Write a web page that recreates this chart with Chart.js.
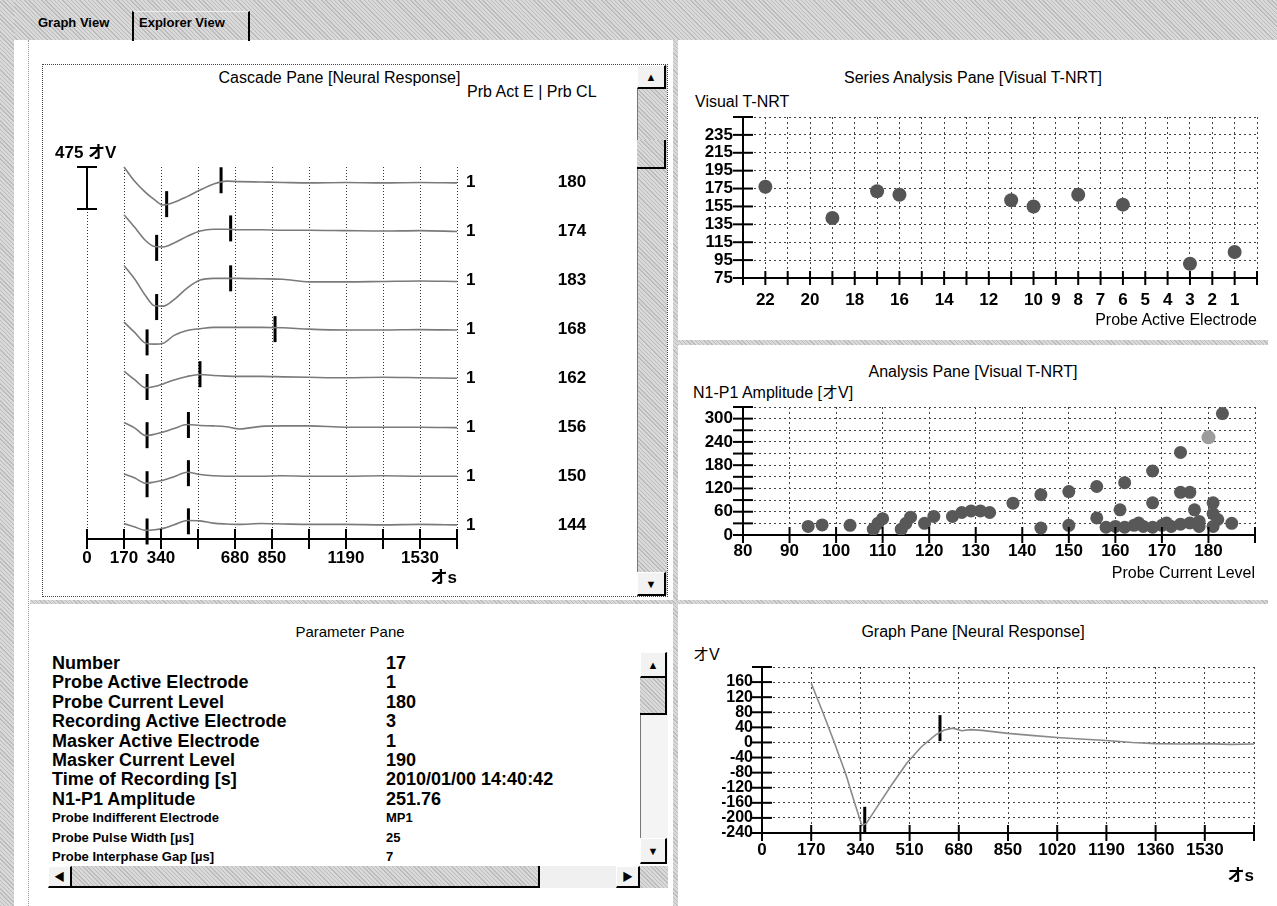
<!DOCTYPE html>
<html>
<head>
<meta charset="utf-8">
<script src="https://cdn.jsdelivr.net/npm/chart.js@4.4.1/dist/chart.umd.min.js"></script>
<style>
body { margin: 0; width: 1277px; height: 906px; position: relative; overflow: hidden; background: #fff;
       font-family: "Liberation Sans", "Noto Sans CJK JP", sans-serif; color: #000; }
div, canvas { position: absolute; }
.hatch { background: #cfcfcf repeating-linear-gradient(45deg, #bcbcbc 0 1px, #d9d9d9 1px 3px); }
.t { white-space: nowrap; height: 20px; line-height: 20px; }
.title { font-size: 16px; text-align: center; }
.cap { font-size: 16px; }
.tab { font-size: 13px; font-weight: bold; }
.btn { background: #f2f2f2; border-top: 1px solid #fff; border-left: 1px solid #fff; border-right: 2px solid #000;
       border-bottom: 2px solid #000; box-sizing: border-box; font-size: 11px; text-align: center; }
.thumb { box-sizing: border-box; border-right: 2px solid #000; border-bottom: 2px solid #000; }
.pl { font-size: 18px; font-weight: bold; }
.ps { font-size: 13px; font-weight: bold; }
</style>
</head>
<body>
<!-- frame -->
<div class="hatch" style="left:0;top:0;width:1277px;height:40px"></div>
<div class="hatch" style="left:0;top:0;width:14px;height:906px"></div>
<div style="left:28px;top:40px;height:866px;border-left:1px dotted #999"></div>
<div class="hatch" style="left:673px;top:40px;width:5px;height:866px"></div>
<div class="hatch" style="left:678px;top:340px;width:590px;height:5px"></div>
<div class="hatch" style="left:30px;top:600px;width:1238px;height:4px"></div>

<!-- tabs -->
<div class="t tab" style="left:38px;top:13px">Graph View</div>
<div style="left:132px;top:11px;width:114px;height:29px;border-left:2px solid #000;border-right:2px solid #000;border-top:1px solid #eee"></div>
<div class="t tab" style="left:139px;top:13px">Explorer View</div>

<!-- cascade pane -->
<div style="left:42px;top:64px;width:624px;height:531px;border:1px dotted #444"></div>
<div class="t title" style="left:42px;top:68px;width:595px">Cascade Pane [Neural Response]</div>
<div class="t cap" style="left:467px;top:82px">Prb Act E | Prb CL</div>
<canvas id="cascade" width="590" height="533" style="left:46px;top:63px"></canvas>
<div class="hatch" style="left:637px;top:65px;width:29px;height:530px;border-left:1px solid #777"></div>
<div class="btn" style="left:637px;top:65px;width:29px;height:24px;line-height:22px">&#9650;</div>
<div class="thumb hatch" style="left:637px;top:140px;width:29px;height:29px;background-color:#bbb"></div>
<div class="btn" style="left:637px;top:572px;width:29px;height:24px;line-height:22px">&#9660;</div>

<!-- series analysis pane -->
<div class="t title" style="left:678px;top:68px;width:590px">Series Analysis Pane [Visual T-NRT]</div>
<div class="t cap" style="left:695px;top:92px">Visual T-NRT</div>
<canvas id="series" width="590" height="280" style="left:680px;top:60px"></canvas>
<div class="t cap" style="left:957px;top:310px;width:300px;text-align:right">Probe Active Electrode</div>

<!-- analysis pane -->
<div class="t title" style="left:678px;top:362px;width:590px">Analysis Pane [Visual T-NRT]</div>
<div class="t cap" style="left:693px;top:383px">N1-P1 Amplitude [オV]</div>
<canvas id="analysis" width="590" height="255" style="left:680px;top:345px"></canvas>

<!-- parameter pane -->
<div class="t title" style="left:30px;top:622px;width:640px;font-size:15px">Parameter Pane</div>
<div id="params"></div>
<div style="left:640px;top:652px;width:27px;height:212px;background:#f4f4f4;border-left:1px solid #777"></div>
<div class="btn" style="left:640px;top:652px;width:27px;height:26px;line-height:24px">&#9650;</div>
<div class="thumb hatch" style="left:640px;top:678px;width:27px;height:37px"></div>
<div class="btn" style="left:640px;top:838px;width:27px;height:26px;line-height:24px">&#9660;</div>
<div class="hatch" style="left:48px;top:866px;width:620px;height:22px"></div>
<div class="btn" style="left:48px;top:866px;width:24px;height:22px;line-height:20px">&#9664;</div>
<div class="thumb hatch" style="left:72px;top:866px;width:468px;height:22px;background-color:#c4c4c4"></div>
<div style="left:540px;top:866px;width:76px;height:22px;background:#f0f0f0"></div>
<div class="btn" style="left:616px;top:866px;width:24px;height:22px;line-height:20px">&#9654;</div>

<!-- graph pane -->
<div class="t title" style="left:678px;top:622px;width:590px">Graph Pane [Neural Response]</div>
<div class="t cap" style="left:693px;top:645px">オV</div>
<canvas id="graph" width="590" height="301" style="left:680px;top:605px"></canvas>

<script>
// ---- cascade pane: one trace per recording (uV), sampled at these times (us)
const cascadeTimes = [170, 220, 270, 310, 350, 400, 460, 520, 580, 640, 700, 800, 900, 1020, 1190, 1360, 1530, 1700];
const cascadeTraces = [
    [170, 5, -120, -200, -260, -230, -165, -90, -25, 10, 5, 0, -5, -10, -5, -10, -5, -10],
    [185, 40, -110, -175, -180, -135, -60, 0, 20, 20, 15, 15, 10, 10, 5, 0, 5, -5],
    [166, 10, -180, -290, -295, -220, -90, 0, 20, 20, 20, 15, 10, -20, -20, -15, -10, -15],
    [80, -40, -160, -170, -160, -70, -15, 5, 20, 20, 20, 20, 15, 0, -10, -10, -5, -10],
    [80, -20, -110, -95, -65, -20, 20, 42, 30, 23, 20, 20, 15, 10, 5, 10, 5, 0],
    [53, -10, -95, -80, -55, -15, 30, 20, 15, 5, -20, 10, 15, 15, 0, 0, 0, -5],
    [26, -20, -79, -65, -45, -5, 45, 20, 5, 0, 0, 0, 5, 0, 0, 5, 0, 0],
    [19, -20, -57, -50, -35, 5, 55, 50, 25, 15, 10, 20, 15, 10, 10, 5, 10, 5]
];
const cascadeElectrodes = [1, 1, 1, 1, 1, 1, 1, 1];
const cascadeLevels = [180, 174, 183, 168, 162, 156, 150, 144];
const n1Latency = [366, 320, 320, 276, 276, 276, 276, 276];
const n1Amp = [-250, -190, -305, -150, -100, -90, -90, -70];
const p1Latency = [616, 660, 660, 864, 519, 466, 466, 466];
const p1Amp = [20, 30, 20, 0, 45, 25, 35, 45];
const cascadeTickLabels = [0, 170, 340, 680, 850, 1190, 1530];
const scaleBarUv = 475;

// ---- series analysis pane
const electrodes = [22, 19, 17, 16, 11, 10, 8, 6, 3, 1];
const tNrt = [177, 142, 172, 168, 162, 155, 168, 157, 91, 104];
const seriesXLabels = [22, 20, 18, 16, 14, 12, 10, 9, 8, 7, 6, 5, 4, 3, 2, 1];
const seriesYLabels = [75, 95, 115, 135, 155, 175, 195, 215, 235];

// ---- analysis pane (probe current level vs N1-P1 amplitude)
const ampLevels = [94, 97, 103, 108, 109, 110, 114, 115, 116, 119, 121, 125, 127, 129, 131, 133, 138, 144, 144,
    150, 150, 156, 156, 158, 160, 161, 162, 162, 164, 165, 166, 168, 168, 168, 170, 171, 172, 174, 174, 174,
    176, 176, 177, 178, 178, 181, 181, 181, 182, 183, 185];
const ampValues = [22, 26, 25, 15, 30, 42, 15, 30, 46, 30, 48, 48, 58, 62, 62, 58, 82, 18, 104,
    25, 112, 44, 125, 20, 22, 65, 135, 20, 25, 31, 22, 20, 83, 165, 25, 31, 22, 110, 213, 28,
    110, 31, 65, 35, 22, 83, 55, 22, 40, 313, 30];
const selLevel = 180;
const selAmp = 251.76;
const ampXLabels = [80, 90, 100, 110, 120, 130, 140, 150, 160, 170, 180];
const ampYLabels = [0, 60, 120, 180, 240, 300];

// ---- graph pane (selected recording)
const respTimes = [170, 210, 250, 290, 320, 345, 360, 400, 450, 500, 550, 600, 630, 660, 690, 720, 760,
    850, 940, 1020, 1100, 1190, 1280, 1360, 1450, 1530, 1620, 1700];
const respValues = [157, 80, 0, -85, -160, -220, -215, -168, -110, -55, -12, 20, 33, 38, 31, 34, 32,
    24, 18, 13, 9, 5, 0, -3, -4, -3, -5, -4];
const respN1 = [355, -205];
const respP1 = [615, 38];
const respXLabels = [0, 170, 340, 510, 680, 850, 1020, 1190, 1360, 1530];
const respYLabels = [-240, -200, -160, -120, -80, -40, 0, 40, 80, 120, 160];

// ---- parameter pane
const paramNames = ['Number', 'Probe Active Electrode', 'Probe Current Level', 'Recording Active Electrode',
    'Masker Active Electrode', 'Masker Current Level', 'Time of Recording [s]', 'N1-P1 Amplitude',
    'Probe Indifferent Electrode', 'Probe Pulse Width [µs]', 'Probe Interphase Gap [µs]'];
const paramValues = ['17', '1', '180', '3', '1', '190', '2010/01/00 14:40:42', '251.76', 'MP1', '25', '7'];

const params = document.getElementById('params');
paramNames.forEach((name, i) => {
    const cls = i < 8 ? 'pl' : 'ps';
    const y = 653 + i * 19.4;
    params.insertAdjacentHTML('beforeend',
        `<div class="t ${cls}" style="left:52px;top:${y}px">${name}</div>` +
        `<div class="t ${cls}" style="left:386px;top:${y}px">${paramValues[i]}</div>`);
});

Chart.defaults.font.family = '"Liberation Sans", "Noto Sans CJK JP", sans-serif';
Chart.defaults.color = '#000';

const tickFont = {size: 17, weight: 'bold'};
const gridStyle = {color: '#444', drawTicks: false};
const axisBorder = {color: '#000', width: 2, dash: [2, 3]};

// solid tick marks crossing the axis lines
const crossTicks = {
    id: 'crossTicks',
    afterDraw(chart, args, opts) {
        const ctx = chart.ctx;
        ctx.save();
        ctx.strokeStyle = '#000';
        ctx.lineWidth = 2;
        ['x', 'y'].forEach(id => {
            const s = chart.scales[id];
            const len = opts[id];
            if (!s || !len) return;
            s.ticks.forEach(t => {
                const p = s.getPixelForValue(t.value);
                ctx.beginPath();
                if (s.isHorizontal()) {
                    ctx.moveTo(p, s.top - len);
                    ctx.lineTo(p, s.top + len);
                } else {
                    ctx.moveTo(s.right - len, p);
                    ctx.lineTo(s.right + len, p);
                }
                ctx.stroke();
            });
        });
        ctx.restore();
    }
};

const cascadeSpacing = 555;

// scale bar and the right-hand labels of the cascade
const cascadeExtras = {
    id: 'cascadeExtras',
    afterDraw(chart) {
        const {ctx, chartArea, scales: {x, y}} = chart;
        const x0 = x.getPixelForValue(0);
        const yTop = y.getPixelForValue(y.max);
        const yBot = y.getPixelForValue(y.max - scaleBarUv);
        ctx.save();
        ctx.strokeStyle = '#000';
        ctx.lineWidth = 2;
        ctx.beginPath();
        ctx.moveTo(x0, yTop); ctx.lineTo(x0, yBot);
        ctx.moveTo(x0 - 10, yTop); ctx.lineTo(x0 + 10, yTop);
        ctx.moveTo(x0 - 10, yBot); ctx.lineTo(x0 + 10, yBot);
        ctx.stroke();
        ctx.fillStyle = '#000';
        ctx.font = 'bold 17px "Liberation Sans", "Noto Sans CJK JP", sans-serif';
        ctx.textBaseline = 'middle';
        ctx.textAlign = 'left';
        ctx.fillText(scaleBarUv + ' オV', x0 - 32, yTop - 14);
        cascadeLevels.forEach((lvl, i) => {
            const py = y.getPixelForValue(-i * cascadeSpacing);
            ctx.textAlign = 'left';
            ctx.fillText(String(cascadeElectrodes[i]), chartArea.right + 9, py);
            ctx.textAlign = 'center';
            ctx.fillText(String(lvl), chartArea.right + 115, py);
        });
        ctx.restore();
    }
};

const base = {
    responsive: false,
    animation: false,
    devicePixelRatio: 1,
    events: []
};

// cascade pane
new Chart(document.getElementById('cascade'), {
    type: 'line',
    data: {
        datasets: [
            ...cascadeTraces.map((tr, i) => ({
                data: cascadeTimes.map((t, j) => ({x: t, y: tr[j] - i * cascadeSpacing})),
                borderColor: '#7a7a7a',
                borderWidth: 1.6,
                pointRadius: 0,
                cubicInterpolationMode: 'monotone',
                clip: false
            })),
            {
                data: n1Latency.map((t, i) => ({x: t, y: n1Amp[i] - i * cascadeSpacing})),
                showLine: false, pointStyle: 'line', pointRotation: 90, pointRadius: 13,
                pointBorderWidth: 3, pointBorderColor: '#000', clip: false
            },
            {
                data: p1Latency.map((t, i) => ({x: t, y: p1Amp[i] - i * cascadeSpacing})),
                showLine: false, pointStyle: 'line', pointRotation: 90, pointRadius: 13,
                pointBorderWidth: 3, pointBorderColor: '#000', clip: false
            }
        ]
    },
    options: {
        ...base,
        layout: {padding: {left: 41, right: 179, top: 104, bottom: 7}},
        plugins: {legend: {display: false}, tooltip: {enabled: false}, crossTicks: {x: 10}},
        scales: {
            x: {
                type: 'linear', min: 0, max: 1700,
                afterFit: s => { s.height = 50; },
                ticks: {stepSize: 170, autoSkip: false, maxRotation: 0, padding: 9, font: tickFont,
                    callback: v => cascadeTickLabels.includes(v) ? v : ''},
                grid: {color: '#333', drawTicks: false},
                border: {color: '#000', width: 2, dash: [1, 2]},
                title: {display: true, text: 'オs', align: 'end', font: tickFont, padding: {top: 0, bottom: 0}}
            },
            y: {display: false, min: -4040, max: 170}
        }
    },
    plugins: [crossTicks, cascadeExtras]
});

// series analysis pane (electrode axis runs high to low)
new Chart(document.getElementById('series'), {
    type: 'scatter',
    data: {
        datasets: [{
            data: electrodes.map((e, i) => ({x: e, y: tNrt[i]})),
            pointRadius: 7, backgroundColor: '#555', borderWidth: 0
        }]
    },
    options: {
        ...base,
        layout: {padding: {left: 23, right: 13, top: 57, bottom: 7}},
        plugins: {legend: {display: false}, tooltip: {enabled: false}, crossTicks: {x: 7, y: 10}},
        scales: {
            x: {
                type: 'linear', reverse: true, min: 0, max: 23,
                afterFit: s => { s.height = 55; },
                ticks: {stepSize: 1, autoSkip: false, maxRotation: 0, padding: 12, font: tickFont,
                    callback: v => seriesXLabels.includes(v) ? v : ''},
                grid: gridStyle, border: axisBorder
            },
            y: {
                min: 75, max: 255,
                afterFit: s => { s.width = 40; },
                ticks: {stepSize: 20, autoSkip: false, padding: 10, font: tickFont,
                    callback: v => seriesYLabels.includes(v) ? v : ''},
                grid: gridStyle, border: axisBorder
            }
        }
    },
    plugins: [crossTicks]
});

// analysis pane
new Chart(document.getElementById('analysis'), {
    type: 'scatter',
    data: {
        datasets: [
            {
                data: ampLevels.map((l, i) => ({x: l, y: ampValues[i]})),
                pointRadius: 6.5, backgroundColor: '#585858', borderWidth: 0
            },
            {
                data: [{x: selLevel, y: selAmp}],
                pointRadius: 7, backgroundColor: '#9c9c9c', borderWidth: 0
            }
        ]
    },
    options: {
        ...base,
        layout: {padding: {left: 23, right: 15, top: 62, bottom: 10}},
        plugins: {legend: {display: false}, tooltip: {enabled: false}, crossTicks: {x: 8, y: 10}},
        scales: {
            x: {
                type: 'linear', min: 80, max: 190,
                afterFit: s => { s.height = 55; },
                ticks: {stepSize: 10, autoSkip: false, maxRotation: 0, padding: 6, font: tickFont,
                    callback: v => ampXLabels.includes(v) ? v : ''},
                grid: gridStyle, border: axisBorder,
                title: {display: true, text: 'Probe Current Level', align: 'end', font: {size: 16},
                    padding: {top: 0, bottom: 7}}
            },
            y: {
                min: 0, max: 330,
                afterFit: s => { s.width = 40; },
                ticks: {stepSize: 30, autoSkip: false, padding: 10, font: tickFont,
                    callback: v => ampYLabels.includes(v) ? v : ''},
                grid: gridStyle, border: axisBorder
            }
        }
    },
    plugins: [crossTicks]
});

// graph pane
new Chart(document.getElementById('graph'), {
    type: 'line',
    data: {
        datasets: [
            {
                data: respTimes.map((t, i) => ({x: t, y: respValues[i]})),
                borderColor: '#8a8a8a', borderWidth: 1.6, pointRadius: 0, tension: 0
            },
            {
                data: [{x: respN1[0], y: respN1[1]}, {x: respP1[0], y: respP1[1]}],
                showLine: false, pointStyle: 'line', pointRotation: 90, pointRadius: 13,
                pointBorderWidth: 3, pointBorderColor: '#000', clip: false
            }
        ]
    },
    options: {
        ...base,
        layout: {padding: {left: 42, right: 15, top: 62, bottom: 13}},
        plugins: {legend: {display: false}, tooltip: {enabled: false}, crossTicks: {x: 8, y: 10}},
        scales: {
            x: {
                type: 'linear', min: 0, max: 1700,
                afterFit: s => { s.height = 60; },
                ticks: {stepSize: 170, autoSkip: false, maxRotation: 0, padding: 7, font: tickFont,
                    callback: v => respXLabels.includes(v) ? v : ''},
                grid: gridStyle, border: axisBorder,
                title: {display: true, text: 'オs', align: 'end', font: tickFont, padding: {top: 0, bottom: 6}}
            },
            y: {
                min: -240, max: 200,
                afterFit: s => { s.width = 40; },
                ticks: {stepSize: 40, autoSkip: false, padding: 9, font: {size: 16, weight: 'bold'},
                    callback: v => respYLabels.includes(v) ? v : ''},
                grid: gridStyle, border: axisBorder
            }
        }
    },
    plugins: [crossTicks]
});
</script>
</body>
</html>
